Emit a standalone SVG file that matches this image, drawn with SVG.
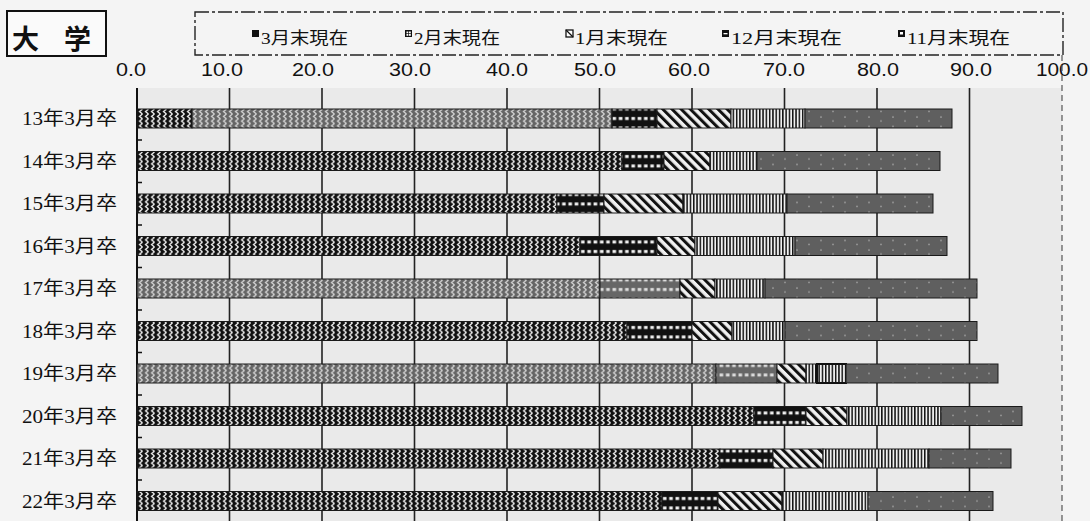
<svg xmlns="http://www.w3.org/2000/svg" width="1090" height="521" viewBox="0 0 1090 521">
<style>
.lbl{font-family:"Liberation Serif","Noto Sans CJK JP",serif;font-size:19px;fill:#111;text-anchor:end}
.ax{font-family:"Liberation Sans","DejaVu Sans",sans-serif;font-size:18px;fill:#111;text-anchor:middle}
.lg{font-family:"Liberation Serif","Noto Sans CJK JP",serif;font-size:17px;fill:#111}
.grid{stroke:#222;stroke-width:1.6}
.seg{stroke:#1a1a1a;stroke-width:1}
</style>
<defs>
<pattern id="zzB" patternUnits="userSpaceOnUse" width="6" height="4.75"><rect width="6" height="4.75" fill="#111"/><polyline points="4.5,0 1.5,2.375 4.5,4.75" fill="none" stroke="#f2f2f2" stroke-width="1.3"/></pattern>
<pattern id="zzG" patternUnits="userSpaceOnUse" width="6" height="4.75"><rect width="6" height="4.75" fill="#666"/><polyline points="4.5,0 1.5,2.375 4.5,4.75" fill="none" stroke="#d2d2d2" stroke-width="1.3"/></pattern>
<pattern id="gdB" patternUnits="userSpaceOnUse" width="6.3" height="9.5"><rect width="6.3" height="9.5" fill="#111"/><rect x="1.4" y="3" width="3.6" height="3" fill="#f2f2f2"/></pattern>
<pattern id="gdG" patternUnits="userSpaceOnUse" width="6.3" height="9.5"><rect width="6.3" height="9.5" fill="#666"/><rect x="1.4" y="3" width="3.6" height="3" fill="#dcdcdc"/></pattern>
<pattern id="dg" patternUnits="userSpaceOnUse" width="6.5" height="6.5" patternTransform="rotate(-45)"><rect width="6.5" height="6.5" fill="#f0f0f0"/><rect width="3" height="6.5" fill="#111"/></pattern>
<pattern id="vt" patternUnits="userSpaceOnUse" width="3.3" height="10"><rect width="3.3" height="10" fill="#f0f0f0"/><rect width="1.5" height="10" fill="#111"/></pattern>
<pattern id="gy" patternUnits="userSpaceOnUse" width="24" height="9.5"><rect width="24" height="9.5" fill="#5f5f5f"/><circle cx="5" cy="3" r="0.9" fill="#a0a0a0"/><circle cx="17" cy="7" r="0.9" fill="#a0a0a0"/></pattern>
</defs>
<rect width="1090" height="521" fill="#f4f4f4"/>
<rect x="137" y="88" width="925" height="433" fill="#eaeaea"/>
<g id="title">
<rect x="7" y="11" width="99" height="45" fill="#fafafa" stroke="#111" stroke-width="2"/>
<text x="12" y="49" style="font-family:'Noto Sans CJK JP',sans-serif;font-size:27px;font-weight:bold;fill:#111">大</text>
<text x="64" y="49" style="font-family:'Noto Sans CJK JP',sans-serif;font-size:27px;font-weight:bold;fill:#111">学</text>
</g>
<g id="legend">
<rect x="195" y="12" width="868" height="43" fill="none" stroke="#222" stroke-width="1.4" stroke-dasharray="14,3,3,3"/>
<rect x="252" y="30" width="7" height="7" fill="#111"/>
<text class="lg" x="261" y="44" textLength="87" lengthAdjust="spacingAndGlyphs">3月末現在</text>
<rect x="405" y="30" width="7" height="7" fill="#111"/><rect x="406.5" y="31.5" width="1.8" height="1.8" fill="#fff"/><rect x="409" y="31.5" width="1.8" height="1.8" fill="#fff"/><rect x="406.5" y="34" width="1.8" height="1.8" fill="#fff"/><rect x="409" y="34" width="1.8" height="1.8" fill="#fff"/>
<text class="lg" x="414" y="44" textLength="86" lengthAdjust="spacingAndGlyphs">2月末現在</text>
<rect x="566" y="30" width="7" height="7" fill="#fff" stroke="#111" stroke-width="1.3"/><line x1="566" y1="30" x2="573" y2="37" stroke="#111" stroke-width="1.3"/>
<text class="lg" x="575" y="44" textLength="93" lengthAdjust="spacingAndGlyphs">1月末現在</text>
<rect x="722" y="30" width="7" height="7" fill="#111"/><rect x="723.5" y="33" width="4" height="1.3" fill="#fff"/>
<text class="lg" x="731" y="44" textLength="111" lengthAdjust="spacingAndGlyphs">12月末現在</text>
<rect x="898" y="30" width="7" height="7" fill="#111"/><rect x="900" y="32" width="3" height="2.5" fill="#fff"/>
<text class="lg" x="907" y="44" textLength="103" lengthAdjust="spacingAndGlyphs">11月末現在</text>
</g>
<g id="axis-labels">
<text class="ax" x="131" y="76" textLength="30" lengthAdjust="spacingAndGlyphs">0.0</text>
<text class="ax" x="222" y="76" textLength="42" lengthAdjust="spacingAndGlyphs">10.0</text>
<text class="ax" x="313" y="76" textLength="42" lengthAdjust="spacingAndGlyphs">20.0</text>
<text class="ax" x="410" y="76" textLength="42" lengthAdjust="spacingAndGlyphs">30.0</text>
<text class="ax" x="507" y="76" textLength="42" lengthAdjust="spacingAndGlyphs">40.0</text>
<text class="ax" x="595" y="76" textLength="42" lengthAdjust="spacingAndGlyphs">50.0</text>
<text class="ax" x="689" y="76" textLength="42" lengthAdjust="spacingAndGlyphs">60.0</text>
<text class="ax" x="784" y="76" textLength="42" lengthAdjust="spacingAndGlyphs">70.0</text>
<text class="ax" x="878" y="76" textLength="42" lengthAdjust="spacingAndGlyphs">80.0</text>
<text class="ax" x="971" y="76" textLength="42" lengthAdjust="spacingAndGlyphs">90.0</text>
<text class="ax" x="1062" y="76" textLength="52" lengthAdjust="spacingAndGlyphs">100.0</text>
</g>
<g id="gridlines">
<line class="grid" x1="229.5" y1="88" x2="229.5" y2="521"/>
<line class="grid" x1="322" y1="88" x2="322" y2="521"/>
<line class="grid" x1="414.5" y1="88" x2="414.5" y2="521"/>
<line class="grid" x1="507" y1="88" x2="507" y2="521"/>
<line class="grid" x1="599.5" y1="88" x2="599.5" y2="521"/>
<line class="grid" x1="692" y1="88" x2="692" y2="521"/>
<line class="grid" x1="784.5" y1="88" x2="784.5" y2="521"/>
<line class="grid" x1="877" y1="88" x2="877" y2="521"/>
<line class="grid" x1="969.5" y1="88" x2="969.5" y2="521"/>
<line x1="1062" y1="55" x2="1062" y2="521" stroke="#555" stroke-width="1.2" stroke-dasharray="6,4"/>
<line x1="137" y1="88" x2="137" y2="521" stroke="#111" stroke-width="2"/>
<path d="M137,140H142M137,182.5H142M137,225H142M137,267.5H142M137,310H142M137,352.5H142M137,395H142M137,437.5H142M137,480H142" stroke="#111" stroke-width="1.3"/>
</g>
<g id="row-13">
<text class="lbl" x="117" y="125" textLength="95" lengthAdjust="spacingAndGlyphs">13年3月卒</text>
<rect class="seg" x="137" y="109" width="55" height="19" fill="url(#zzB)"/>
<rect class="seg" x="192" y="109" width="420" height="19" fill="url(#zzG)"/>
<rect class="seg" x="612" y="109" width="45" height="19" fill="url(#gdB)"/>
<rect class="seg" x="657" y="109" width="74" height="19" fill="url(#dg)"/>
<rect class="seg" x="731" y="109" width="74" height="19" fill="url(#vt)"/>
<rect class="seg" x="805" y="109" width="147" height="19" fill="url(#gy)"/>
</g>
<g id="row-14">
<text class="lbl" x="117" y="167.5" textLength="95" lengthAdjust="spacingAndGlyphs">14年3月卒</text>
<rect class="seg" x="137" y="151.5" width="485" height="19" fill="url(#zzB)"/>
<rect class="seg" x="622" y="151.5" width="42" height="19" fill="url(#gdB)"/>
<rect class="seg" x="664" y="151.5" width="46" height="19" fill="url(#dg)"/>
<rect class="seg" x="710" y="151.5" width="47" height="19" fill="url(#vt)"/>
<rect class="seg" x="757" y="151.5" width="183" height="19" fill="url(#gy)"/>
</g>
<g id="row-15">
<text class="lbl" x="117" y="210" textLength="95" lengthAdjust="spacingAndGlyphs">15年3月卒</text>
<rect class="seg" x="137" y="194" width="420" height="19" fill="url(#zzB)"/>
<rect class="seg" x="557" y="194" width="47" height="19" fill="url(#gdB)"/>
<rect class="seg" x="604" y="194" width="79" height="19" fill="url(#dg)"/>
<rect class="seg" x="683" y="194" width="104" height="19" fill="url(#vt)"/>
<rect class="seg" x="787" y="194" width="146" height="19" fill="url(#gy)"/>
</g>
<g id="row-16">
<text class="lbl" x="117" y="252.5" textLength="95" lengthAdjust="spacingAndGlyphs">16年3月卒</text>
<rect class="seg" x="137" y="236.5" width="443" height="19" fill="url(#zzB)"/>
<rect class="seg" x="580" y="236.5" width="77" height="19" fill="url(#gdB)"/>
<rect class="seg" x="657" y="236.5" width="38" height="19" fill="url(#dg)"/>
<rect class="seg" x="695" y="236.5" width="100" height="19" fill="url(#vt)"/>
<rect class="seg" x="795" y="236.5" width="152" height="19" fill="url(#gy)"/>
</g>
<g id="row-17">
<text class="lbl" x="117" y="295" textLength="95" lengthAdjust="spacingAndGlyphs">17年3月卒</text>
<rect class="seg" x="137" y="279" width="463" height="19" fill="url(#zzG)"/>
<rect class="seg" x="600" y="279" width="80" height="19" fill="url(#gdG)"/>
<rect class="seg" x="680" y="279" width="35" height="19" fill="url(#dg)"/>
<rect class="seg" x="715" y="279" width="50" height="19" fill="url(#vt)"/>
<rect class="seg" x="765" y="279" width="212" height="19" fill="url(#gy)"/>
</g>
<g id="row-18">
<text class="lbl" x="117" y="337.5" textLength="95" lengthAdjust="spacingAndGlyphs">18年3月卒</text>
<rect class="seg" x="137" y="321.5" width="490" height="19" fill="url(#zzB)"/>
<rect class="seg" x="627" y="321.5" width="65" height="19" fill="url(#gdB)"/>
<rect class="seg" x="692" y="321.5" width="40" height="19" fill="url(#dg)"/>
<rect class="seg" x="732" y="321.5" width="53" height="19" fill="url(#vt)"/>
<rect class="seg" x="785" y="321.5" width="192" height="19" fill="url(#gy)"/>
</g>
<g id="row-19">
<text class="lbl" x="117" y="380" textLength="95" lengthAdjust="spacingAndGlyphs">19年3月卒</text>
<rect class="seg" x="137" y="364" width="579" height="19" fill="url(#zzG)"/>
<rect class="seg" x="716" y="364" width="61" height="19" fill="url(#gdG)"/>
<rect class="seg" x="777" y="364" width="29" height="19" fill="url(#dg)"/>
<rect class="seg" x="806" y="364" width="40" height="19" fill="url(#vt)"/>
<rect x="817" y="364" width="29" height="19" fill="none" stroke="#111" stroke-width="2"/>
<rect class="seg" x="846" y="364" width="152" height="19" fill="url(#gy)"/>
</g>
<g id="row-20">
<text class="lbl" x="117" y="422.5" textLength="95" lengthAdjust="spacingAndGlyphs">20年3月卒</text>
<rect class="seg" x="137" y="406.5" width="617" height="19" fill="url(#zzB)"/>
<rect class="seg" x="754" y="406.5" width="52" height="19" fill="url(#gdB)"/>
<rect class="seg" x="806" y="406.5" width="41" height="19" fill="url(#dg)"/>
<rect class="seg" x="847" y="406.5" width="94" height="19" fill="url(#vt)"/>
<rect class="seg" x="941" y="406.5" width="81" height="19" fill="url(#gy)"/>
</g>
<g id="row-21">
<text class="lbl" x="117" y="465" textLength="95" lengthAdjust="spacingAndGlyphs">21年3月卒</text>
<rect class="seg" x="137" y="449" width="583" height="19" fill="url(#zzB)"/>
<rect class="seg" x="720" y="449" width="53" height="19" fill="url(#gdB)"/>
<rect class="seg" x="773" y="449" width="50" height="19" fill="url(#dg)"/>
<rect class="seg" x="823" y="449" width="106" height="19" fill="url(#vt)"/>
<rect class="seg" x="929" y="449" width="82" height="19" fill="url(#gy)"/>
</g>
<g id="row-22">
<text class="lbl" x="117" y="507.5" textLength="95" lengthAdjust="spacingAndGlyphs">22年3月卒</text>
<rect class="seg" x="137" y="491.5" width="525" height="19" fill="url(#zzB)"/>
<rect class="seg" x="662" y="491.5" width="56" height="19" fill="url(#gdB)"/>
<rect class="seg" x="718" y="491.5" width="64" height="19" fill="url(#dg)"/>
<rect class="seg" x="782" y="491.5" width="86" height="19" fill="url(#vt)"/>
<rect class="seg" x="868" y="491.5" width="125" height="19" fill="url(#gy)"/>
</g>
</svg>
